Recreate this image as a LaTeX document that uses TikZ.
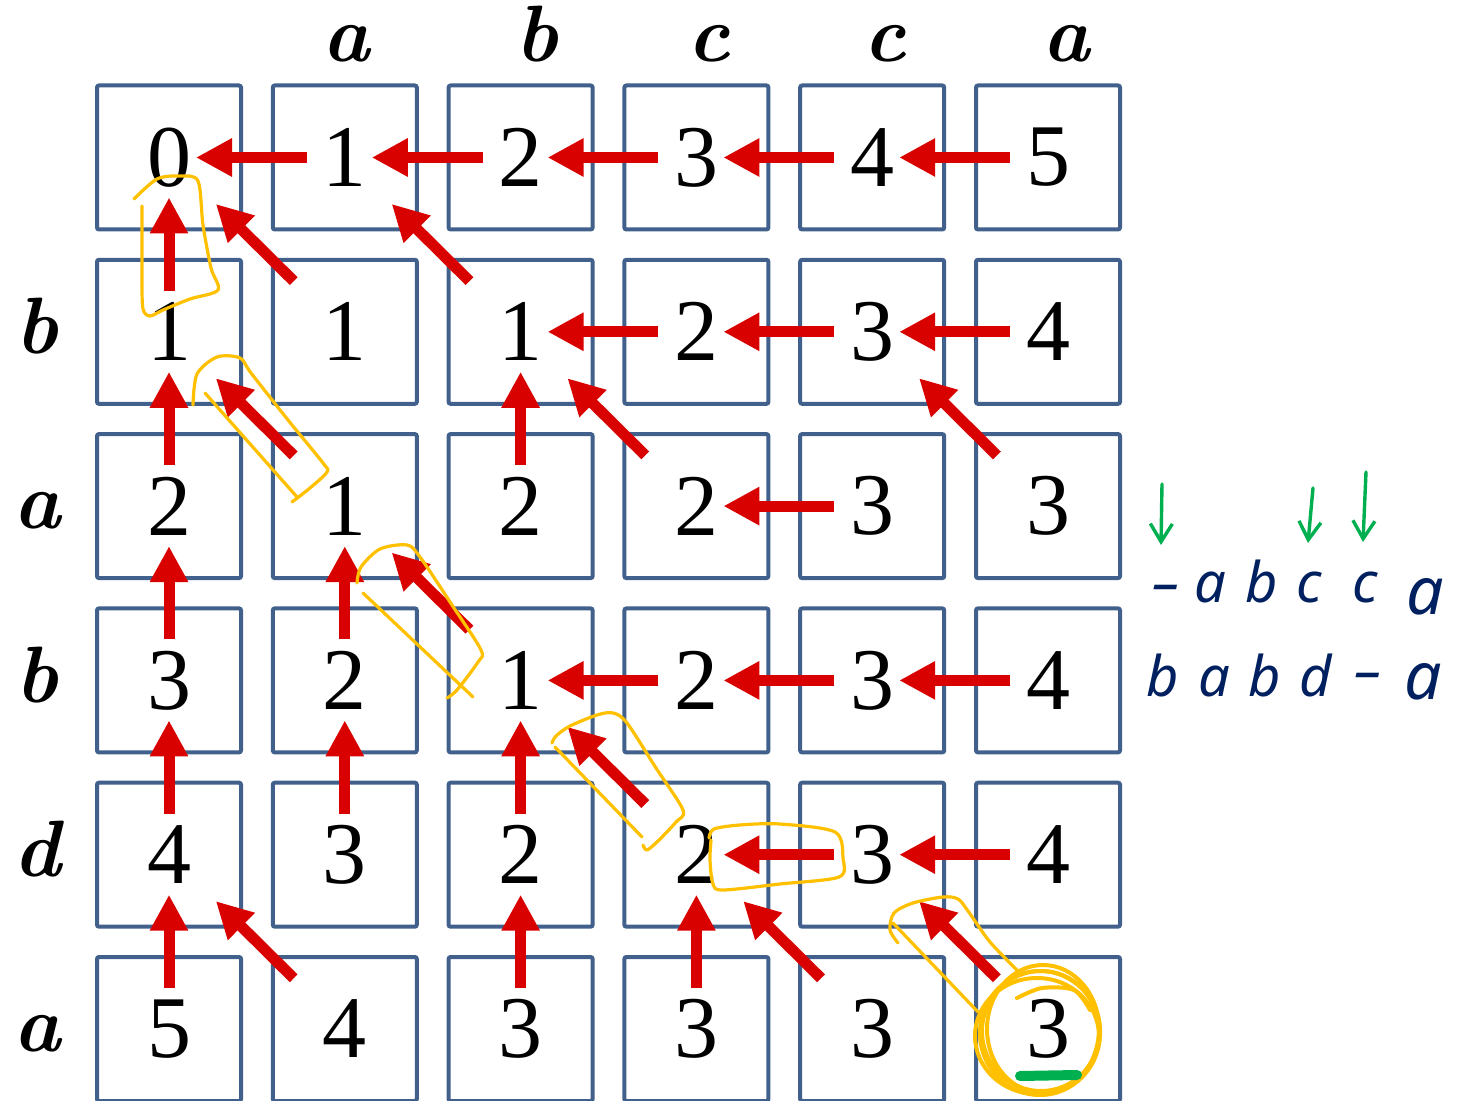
\documentclass[tikz,border=0pt]{standalone}
\usepackage{fontspec}
\usetikzlibrary{arrows.meta}
\newfontfamily\handfont{Noto Sans}
\newfontfamily\digitfont{Liberation Serif}
\definecolor{boxblue}{RGB}{65,96,140}
\definecolor{arrowred}{RGB}{217,0,0}
\definecolor{hlyellow}{RGB}{255,192,0}
\definecolor{pengreen}{RGB}{0,176,80}
\definecolor{inkblue}{RGB}{0,32,96}
\tikzset{
  cell/.style={draw=boxblue,line width=2pt,rounded corners=1pt,minimum size=72pt,inner sep=0pt,font=\digitfont\fontsize{44}{48}\selectfont},
  seqlbl/.style={anchor=base,inner sep=0pt,font=\fontsize{40}{44}\selectfont\bfseries\itshape},
  hand/.style={anchor=base,inner sep=0pt,text=inkblue,font=\handfont\bfseries\itshape\fontsize{28}{30}\selectfont},
  back/.style={draw=arrowred,line width=5.5pt,-{Triangle[length=18pt,width=18pt]}},
  goleft/.style={back,shorten <=19pt,shorten >=13.5pt},
  goup/.style={back,shorten <=20.5pt,shorten >=20pt},
  godiag/.style={back,shorten <=36pt,shorten >=33pt},
  hl/.style={draw=hlyellow,line width=1.6pt,line cap=round,line join=round},
  pen/.style={draw=pengreen,line width=1.7pt,line cap=round,-{Straight Barb[length=9pt,width=11pt]}}
}
\begin{document}
\begin{tikzpicture}[x=0.5pt,y=-0.5pt]
\useasboundingbox (0,0) rectangle (1458,1101);
\def\dx{175.8}\def\dy{174.3}
% ---- table cells ----
\foreach \vals [count=\r from 0] in {{0,1,2,3,4,5},{1,1,1,2,3,4},{2,1,2,2,3,3},{3,2,1,2,3,4},{4,3,2,2,3,4},{5,4,3,3,3,3}}{
  \foreach \v [count=\c from 0] in \vals{
    \node[cell] (n-\r-\c) at ({169+\dx*\c},{157.5+\dy*\r}) {\v};
  }
}
% ---- the two strings ----
\foreach \x/\ch [count=\i] in {346/a,537/b,709/c,885/c,1066/a}{
  \node[seqlbl] (top-\i) at (\x,62) {\ch};
}
\foreach \ch [count=\i] in {b,a,b,d,a}{
  \node[seqlbl] (side-\i) at (37,{179.5+\dy*\i}) {\ch};
}
% ---- back pointers ----
\foreach \r/\c in {0/1,0/2,0/3,0/4,0/5,1/3,1/4,1/5,2/4,3/3,3/4,3/5,4/4,4/5}{
  \pgfmathtruncatemacro\cl{\c-1}
  \draw[goleft] (n-\r-\c.center) -- (n-\r-\cl.center);
}
\foreach \r/\c in {1/0,2/0,3/0,4/0,5/0,2/2,3/1,4/1,4/2,5/2,5/3}{
  \pgfmathtruncatemacro\ru{\r-1}
  \draw[goup] (n-\r-\c.center) -- (n-\ru-\c.center);
}
\foreach \r/\c in {1/1,1/2,2/1,2/3,2/5,3/2,4/3,5/1,5/4,5/5}{
  \pgfmathtruncatemacro\ru{\r-1}
  \pgfmathtruncatemacro\cl{\c-1}
  \draw[godiag] (n-\r-\c.center) -- (n-\ru-\cl.center);
}
% ---- traced path (yellow) ----
\draw[hl] plot[smooth,tension=0.5] coordinates {(134,199) (157,179) (180,176) (198,181) (203,225) (211,268) (218,290) (190,299) (163,310) (150,316) (143,309) (142,280) (142,206)};
\draw[hl] plot[smooth,tension=0.5] coordinates {(193,405) (197,374) (217,357) (240,358) (251,373) (288,420) (323,463) (327,472) (310,488) (292,502)};
\draw[hl] (205,393) -- (297,497);
\draw[hl] plot[smooth,tension=0.5] coordinates {(357,583) (361,567) (380,549) (407,545) (420,557) (452,605) (481,650) (478,662) (457,690) (447,698)};
\draw[hl] (363,593) -- (473,697);
\draw[hl] plot[smooth,tension=0.5] coordinates {(552,743) (556,736) (570,726) (597,715) (613,713) (627,723) (656,768) (683,810) (676,822) (658,841) (647,850) (643,845)};
\draw[hl] (555,747) -- (642,837);
\draw[hl] plot[smooth,tension=0.5] coordinates {(709,838) (714,829) (740,825) (780,824) (835,832) (843,858) (839,877) (780,884) (723,890) (713,884) (710,860) (711,840)};
\draw[hl] plot[smooth,tension=0.5] coordinates {(898,943) (890,930) (894,913) (913,903) (943,897) (958,899) (968,911) (990,942) (1020,973)};
\draw[hl] (893,923) -- (978,1012);
\draw[hl,line width=2pt] (1040,1033) ellipse [x radius=30pt,y radius=31pt];
\draw[hl,line width=2pt] (1043,1029) ellipse [x radius=28pt,y radius=32pt];
\draw[hl,line width=2pt] (1037,1036) ellipse [x radius=31pt,y radius=29pt];
\draw[hl,line width=2pt] (1041,1031) ellipse [x radius=29.5pt,y radius=30pt];
\draw[hl,line width=2pt] plot[smooth] coordinates {(1017,998) (1042,988) (1074,990) (1090,1010)};
\draw[draw=pengreen,line width=5pt,line cap=round] (1020,1076) -- (1077,1075);
% ---- alignment notes ----
\foreach \x/\y/\ch [count=\i] in {1166/603/\textendash,1210/603/a,1262/603/b,1309/603/c,1365/603/c}{
  \node[hand] (up-\i) at (\x,\y) {\ch};
}
\node[hand,font=\handfont\bfseries\itshape\fontsize{33}{35}\selectfont] (up-6) at (1425,615) {a};
\foreach \x/\y/\ch [count=\i] in {1163/697/b,1214/697/a,1265/697/b,1316/697/d,1368/690/\textendash}{
  \node[hand] (lo-\i) at (\x,\y) {\ch};
}
\node[hand,font=\handfont\bfseries\itshape\fontsize{33}{35}\selectfont] (lo-6) at (1423,699) {a};
\coordinate (g1) at (1162,484);
\coordinate (g2) at (1313,488);
\coordinate (g3) at (1366,472);
\draw[pen] (g1) -- (1161,545);
\draw[pen] (g2) -- (1308,543);
\draw[pen] (g3) -- (1363,542);
\end{tikzpicture}
\end{document}
